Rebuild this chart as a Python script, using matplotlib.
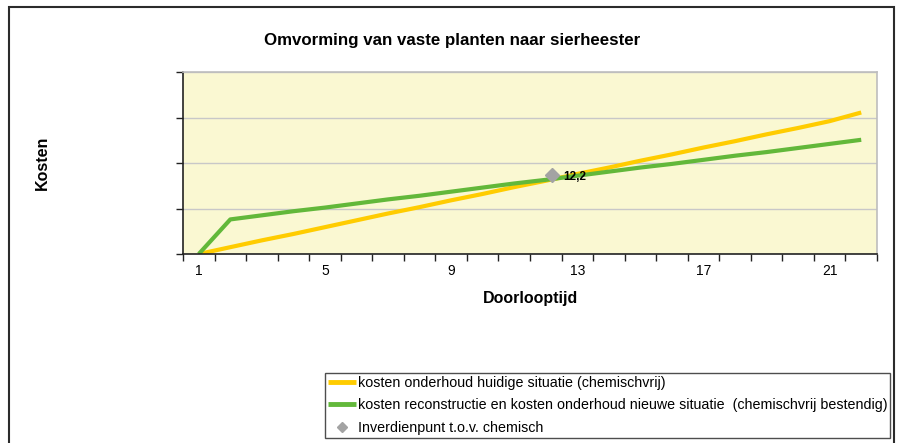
import matplotlib.pyplot as plt
from matplotlib.patches import Rectangle
from matplotlib.ticker import FixedLocator, NullFormatter

plt.rcParams['font.family'] = ['Liberation Sans', 'DejaVu Sans']

# Doorlooptijd (jaren) en kosten (relatieve eenheden, as zonder labels)
jaren = list(range(1, 23))
kosten_huidig = [0.00, 0.15, 0.30, 0.44, 0.59, 0.74, 0.89, 1.03, 1.18, 1.32, 1.47,
                 1.61, 1.76, 1.90, 2.05, 2.19, 2.34, 2.48, 2.63, 2.77, 2.92, 3.11]
kosten_nieuw = [0.00, 0.76, 0.85, 0.94, 1.02, 1.11, 1.20, 1.28, 1.37, 1.46, 1.55,
                1.63, 1.72, 1.81, 1.90, 1.98, 2.07, 2.16, 2.24, 2.33, 2.42, 2.51]
inverdien_x = [12.2]
inverdien_y = [1.73]
inverdien_label = "12,2"
x_labels = [1, 5, 9, 13, 17, 21]

W, H = 906, 443
fig = plt.figure(figsize=(W / 100, H / 100), dpi=100)
fig.patch.set_facecolor('white')

# outer frame
fig.add_artist(Rectangle((9 / W, -0.1), 885 / W, 1.1 - 7 / H, transform=fig.transFigure,
                         fill=False, edgecolor='#2b2b2b', linewidth=1.5))

ax = fig.add_axes([183 / W, 1 - 254 / H, 694 / W, 182 / H])
ax.set_facecolor('#FAF8D2')

l1, = ax.plot(jaren, kosten_huidig, color='#FFCC00', linewidth=3,
              solid_capstyle='butt', label='kosten onderhoud huidige situatie (chemischvrij)')
l2, = ax.plot(jaren, kosten_nieuw, color='#62B83A', linewidth=3,
              solid_capstyle='butt',
              label='kosten reconstructie en kosten onderhoud nieuwe situatie  (chemischvrij bestendig)')
m, = ax.plot(inverdien_x, inverdien_y, linestyle='none', marker='D', markersize=7,
             color='#A3A3A3', label='Inverdienpunt t.o.v. chemisch', zorder=5)
ax.annotate(inverdien_label, (inverdien_x[0], inverdien_y[0]), xytext=(8, -1),
            textcoords='offset points', fontsize=8.5, fontweight='bold', va='center')

ax.set_xlim(0.5, 22.5)
ax.set_ylim(0, 4)

ax.xaxis.set_major_locator(FixedLocator([x - 0.5 for x in range(1, 24)]))
ax.xaxis.set_major_formatter(NullFormatter())
ax.set_xticks(x_labels, [str(v) for v in x_labels], minor=True)
ax.tick_params(axis='x', which='major', length=5, width=1, color='#222222', direction='out')
ax.tick_params(axis='x', which='minor', length=0, labelsize=10, pad=7)

ax.set_yticks([0, 1, 2, 3, 4])
ax.set_yticklabels([])
ax.tick_params(axis='y', length=5, width=1, color='#222222', direction='out')
ax.yaxis.grid(True, color='#C8C8C8', linewidth=1)
ax.set_axisbelow(True)

for side in ['left', 'bottom']:
    ax.spines[side].set_color('#222222')
    ax.spines[side].set_linewidth(1.2)
for side in ['right', 'top']:
    ax.spines[side].set_color('#BDBDBD')
    ax.spines[side].set_linewidth(1.2)

fig.text(452 / W, 1 - 40 / H, 'Omvorming van vaste planten naar sierheester',
         ha='center', va='center', fontsize=12.2, fontweight='bold')
fig.text(42 / W, 1 - 163 / H, 'Kosten', rotation=90, ha='center', va='center',
         fontsize=11.5, fontweight='bold')
fig.text(530 / W, 1 - 299 / H, 'Doorlooptijd', ha='center', va='center',
         fontsize=11.5, fontweight='bold')

leg = fig.legend(handles=[l1, l2, m], loc='upper left',
                 bbox_to_anchor=(325 / W, 1 - 373 / H), fontsize=10.3,
                 frameon=True, fancybox=False, borderpad=0.2, borderaxespad=0,
                 handlelength=2.0, handletextpad=0.1, labelspacing=0.6)
leg.get_frame().set_edgecolor('#222222')
leg.get_frame().set_linewidth(1)
leg.legend_handles[0].set_linewidth(3.5)
leg.legend_handles[1].set_linewidth(3.5)
leg.legend_handles[2].set_markersize(5)

fig.savefig('out.png', dpi=100)
